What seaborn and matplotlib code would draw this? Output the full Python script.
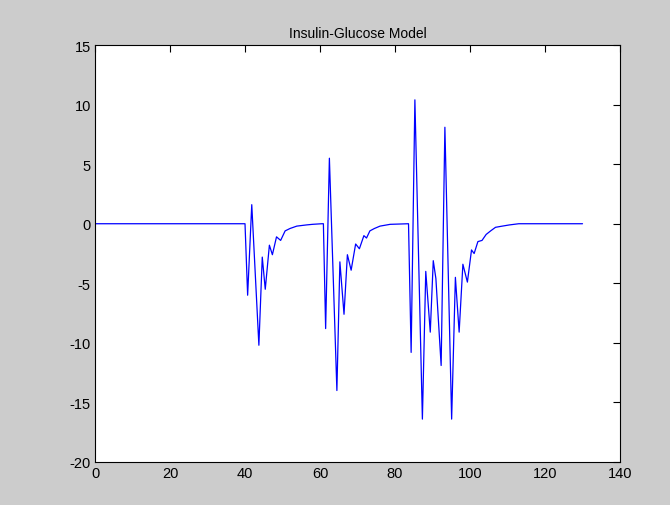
import matplotlib
matplotlib.use("Agg")
import matplotlib.pyplot as plt
import seaborn as sns
import pandas as pd

# Time points and model output
t_vals = [0, 40.0, 40.7, 41.8, 43.7, 44.6, 45.4, 46.5, 47.3, 48.4, 49.5, 50.7, 52.0,
          53.8, 56.4, 58.0, 60.5, 60.9, 61.5, 62.5, 64.5, 65.3, 66.4, 67.3, 68.3,
          69.5, 70.5, 71.7, 72.4, 73.3, 74.5, 76.0, 78.7, 83.6, 84.3, 85.3, 87.3,
          88.2, 89.4, 90.2, 90.9, 92.3, 93.3, 95.1, 96.1, 97.1, 98.1, 99.3, 100.4,
          101.1, 102.1, 103.2, 104.3, 105.5, 106.8, 108.6, 110.5, 113.0, 130.0]
g_vals = [0, 0, -6.0, 1.6, -10.2, -2.8, -5.5, -1.8, -2.6, -1.1, -1.4, -0.6, -0.4,
          -0.2, -0.1, -0.05, 0, 0, -8.8, 5.5, -14.0, -3.2, -7.6, -2.6, -3.9,
          -1.7, -2.1, -1.0, -1.2, -0.6, -0.4, -0.2, -0.05, 0, -10.8, 10.4, -16.4,
          -4.0, -9.1, -3.1, -4.6, -11.9, 8.1, -16.4, -4.5, -9.1, -3.4, -4.9, -2.2,
          -2.5, -1.5, -1.4, -0.9, -0.6, -0.3, -0.2, -0.1, 0, 0]

x_ticks = [0, 20, 40, 60, 80, 100, 120, 140]
y_ticks = [-20, -15, -10, -5, 0, 5, 10, 15]
title_text = "Insulin-Glucose Model"

sns.set_theme(style="white")
plt.rcParams['font.family'] = ['Liberation Sans', 'DejaVu Sans']

df = pd.DataFrame({"t": t_vals, "g": g_vals})

fig = plt.figure(figsize=(6.7, 5.06), dpi=100, facecolor="#cccccc")
ax = fig.add_axes([0.1418, 0.085, 0.7836, 0.824])
ax.set_facecolor("white")

sns.lineplot(data=df, x="t", y="g", ax=ax, color="#0000ff", linewidth=0.9,
             sort=False, estimator=None)

ax.set_xlim(0, 140)
ax.set_ylim(-20, 15)
ax.set_xticks(x_ticks)
ax.set_yticks(y_ticks)
ax.set_xticklabels([str(v) for v in x_ticks])
ax.set_yticklabels([str(v) for v in y_ticks])
ax.set_xlabel("")
ax.set_ylabel("")
ax.tick_params(direction="in", length=5, width=0.8, colors="black",
               labelsize=10.5, top=True, right=True, pad=3)
for s in ax.spines.values():
    s.set_visible(True)
    s.set_color("black")
    s.set_linewidth(0.8)
ax.set_title(title_text, fontsize=10, color="black", pad=6)

fig.savefig("out.png", dpi=100, facecolor=fig.get_facecolor())
